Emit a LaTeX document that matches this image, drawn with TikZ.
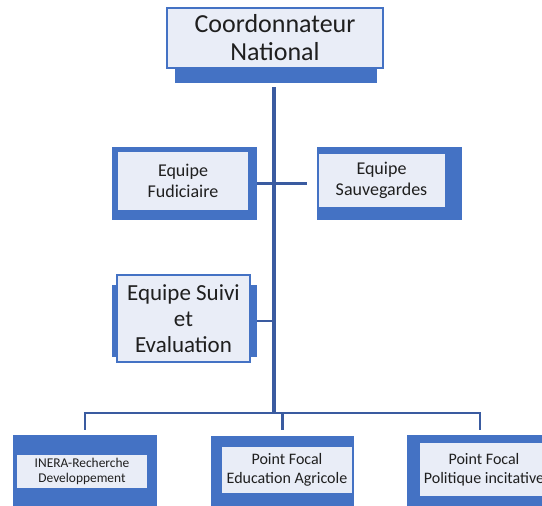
\documentclass[tikz,border=0pt]{standalone}
\usepackage{fontspec}
\setmainfont{Carlito}
\definecolor{obl}{HTML}{4472C4}
\definecolor{lite}{HTML}{E9EDF7}
\definecolor{conn}{HTML}{3A5BA0}
\begin{document}
\begin{tikzpicture}[x=1pt,y=-1pt,
  blk/.style={fill=obl, draw=none, inner sep=0pt, outer sep=0pt, anchor=north west},
  lt/.style={fill=lite, draw=none, inner sep=0pt, outer sep=0pt, anchor=north west, align=center, text=black!88},
  ltb/.style={lt, draw=obl, line width=1.5pt},
  conline/.style={draw=conn, line width=2.5pt},
  trunk/.style={draw=conn, line width=4pt},
  bigtxt/.style={font=\fontsize{26}{28}\selectfont},
  midtxt/.style={font=\fontsize{18}{21}\selectfont},
  suitxt/.style={font=\fontsize{23}{26}\selectfont},
  smtxt/.style={font=\fontsize{13.4}{15}\selectfont},
  pftxt/.style={font=\fontsize{16}{18.5}\selectfont}]
\useasboundingbox (0,0) rectangle (542,506);
\clip (0,0) rectangle (542,506);
\fill[white] (0,0) rectangle (542,506);

% top box
\node[blk, minimum width=202, minimum height=63] (topS) at (175,20) {};
\node[ltb, bigtxt, minimum width=216, minimum height=60] (top) at (167,8) {Coordonnateur\\National};

% middle row
\node[blk, minimum width=145, minimum height=73] (fudO) at (112,147) {};
\node[lt, midtxt, minimum width=130, minimum height=58] (fud) at (118,152) {Equipe\\Fudiciaire};
\node[blk, minimum width=145, minimum height=73] (sauO) at (317,147) {};
\node[ltb, midtxt, line width=1pt, minimum width=127, minimum height=54] (sau) at (318,153) {Equipe\\Sauvegardes};

% suivi
\node[blk, minimum width=145, minimum height=72] (suiO) at (112,285) {};
\node[ltb, suitxt, minimum width=133, minimum height=87] (sui) at (117,275) {Equipe Suivi\\et\\Evaluation};

% bottom row
\node[blk, minimum width=144, minimum height=75] (b1O) at (13,435) {};
\node[lt, smtxt, minimum width=130, minimum height=33] (b1) at (17,455) {INERA-Recherche\\Developpement};
\node[blk, minimum width=143, minimum height=74] (b2O) at (211,436) {};
\node[lt, pftxt, minimum width=130, minimum height=46] (b2) at (222,447) {Point Focal\\Education Agricole};
\node[blk, minimum width=146, minimum height=75] (b3O) at (407,435) {};
\node[lt, pftxt, minimum width=128, minimum height=53] (b3) at (420,443) {Point Focal\\Politique incitative};

% connectors
\coordinate (bus) at (274,413);
\draw[trunk] ([yshift=-4pt]topS.south -| bus) -- (bus);
\draw[conline] (fudO.east) -- ([xshift=-10pt]sauO.west);
\draw[conline] (suiO.east) -- (suiO.east -| bus);
\draw[conline] ([xshift=-1.25pt]b1O.north |- bus) -- ([xshift=1.25pt]b3O.north |- bus);
\draw[conline] (b1O.north |- bus) -- ([yshift=5pt]b1O.north);
\draw[conline] (b2O.north |- bus) -- ([yshift=6pt]b2O.north);
\draw[conline] (b3O.north |- bus) -- ([yshift=5pt]b3O.north);
\end{tikzpicture}
\end{document}
